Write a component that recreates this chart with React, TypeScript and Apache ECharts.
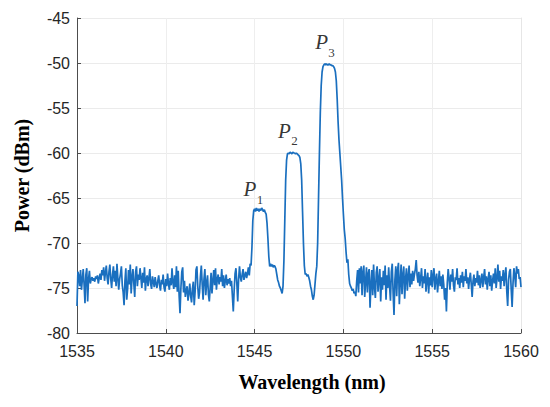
import React, { useEffect, useRef } from "react";
import * as echarts from "echarts";

const X_MIN = 1535;
const X_MAX = 1560;
const STEP = 0.05;

// Spectrum, left noise floor: starts at 1535.00 nm, every 0.05 nm
const noiseLeft = [
  -77.0, -73.2, -73.6, -74.8, -73.0, -75.2, -74.1, -72.9, -74.6, -76.7, -73.5, -72.8, -76.5, -74.0, -73.1, -74.5, -74.0, -73.8, -74.2, -73.9,
  -74.3, -73.7, -74.0, -73.6, -74.5, -73.9, -73.4, -74.1, -73.0, -73.6, -72.7, -74.2, -73.3, -72.5, -73.9, -74.6, -73.2, -72.4, -74.0, -75.0,
  -73.5, -72.6, -74.3, -73.1, -74.8, -72.3, -73.9, -75.2, -74.0, -73.4, -72.6, -74.7, -75.5, -76.9, -74.2, -72.8, -76.3, -75.1, -73.0, -74.6,
  -72.4, -75.6, -73.8, -72.9, -74.5, -76.0, -73.2, -72.6, -74.8, -73.5, -74.1, -72.8, -73.9, -75.0, -73.3, -74.4, -72.7, -75.3, -74.0, -73.6,
  -74.8, -73.9, -72.9, -74.6, -75.1, -73.7, -74.3, -74.9, -73.8, -74.5, -75.0, -74.2, -73.6, -74.7, -75.3, -74.1, -74.6, -73.5, -74.9, -75.4,
  -74.0, -74.8, -73.4, -74.5, -75.2, -73.9, -74.7, -72.8, -74.4, -75.1, -73.6, -74.9, -72.6, -75.4, -73.1, -75.8, -77.8, -75.0, -73.2, -72.7,
  -75.5, -74.2, -76.0, -75.3, -74.8, -76.4, -75.6, -74.5, -75.9, -76.6, -75.1, -74.3, -76.9, -75.4, -73.0, -72.6, -74.8, -76.2, -75.5, -73.7,
  -72.5, -74.6, -76.3, -74.0, -72.9, -75.8, -74.4, -73.6, -75.7, -76.5, -74.9, -73.3, -75.6, -74.2, -73.0, -74.7, -72.8, -75.2, -74.0, -73.5,
  -74.6, -73.8, -74.3, -72.9, -74.8, -73.6, -75.0, -74.2, -73.5, -74.7, -74.0, -74.5, -73.9, -74.8, -74.2, -75.9, -77.6, -75.2, -73.4, -72.8,
  -74.5, -76.5, -74.0, -72.6, -73.8, -74.3, -73.5, -72.9, -74.1, -73.6, -73.2, -73.9, -73.4, -72.7, -73.6, -72.3,
];

// Three channels P1, P2, P3: starts at 1544.80 nm, every 0.05 nm
const peaks = [
  -72.5, -70.5, -67.5, -66.4, -66.2, -66.5, -66.1, -66.4, -66.2, -66.5,
  -66.2, -66.4, -66.1, -66.3, -66.5, -66.3, -66.6, -66.8, -67.8, -69.5,
  -71.5, -72.6, -72.3, -72.6, -72.4, -72.7, -72.5, -72.6, -72.9, -73.5,
  -74.1, -74.4, -74.8, -75.0, -75.3, -75.6, -74.8, -72.0, -67.5, -63.0,
  -60.8, -60.1, -60.0, -60.1, -59.9, -60.0, -60.1, -59.9, -60.0, -60.0,
  -60.1, -60.0, -60.1, -60.2, -60.3, -60.5, -61.2, -63.0, -66.5, -70.0,
  -72.5, -73.5, -73.4, -73.7, -73.5, -73.8, -74.2, -74.8, -75.2, -75.9,
  -76.3, -75.8, -74.6, -73.4, -72.6, -70.0, -65.0, -60.0, -55.5, -52.5,
  -51.0, -50.4, -50.2, -50.1, -50.2, -50.1, -50.2, -50.2, -50.1, -50.2,
  -50.2, -50.3, -50.3, -50.4, -50.6, -51.0, -52.0, -54.0, -56.5, -58.5,
  -60.0, -61.5, -63.0, -65.0, -66.8, -68.5, -69.5, -71.0, -72.2, -71.8,
  -73.5, -74.5, -74.8, -75.0, -75.3, -75.1, -75.6, -75.4, -75.9, -74.2,
  -73.0, -75.5,
];

// Right noise floor: ends at 1560.00 nm, every 0.05 nm
const noiseRight = [
  -72.8, -74.5,
  -72.6, -75.8, -73.2, -72.5, -76.0, -74.3, -72.7, -75.5, -73.4, -72.9, -77.2, -74.6, -73.0, -75.8, -72.4, -74.9, -76.1, -73.3, -72.6, -75.4,
  -74.0, -72.9, -76.5, -73.8, -75.2, -73.1, -74.7, -72.5, -76.3, -73.6, -75.0, -72.7, -74.8, -76.4, -73.2, -72.3, -75.6, -78.0, -74.1, -72.6,
  -75.9, -73.0, -72.2, -76.8, -74.3, -72.4, -75.7, -73.5, -72.6, -76.2, -74.0, -72.8, -75.3, -73.7, -72.5, -74.9, -73.4, -74.6, -73.1, -74.2,
  -73.5, -72.9, -71.9, -73.6, -74.4, -73.2, -74.8, -73.9, -72.8, -75.0, -73.7, -74.5, -72.9, -75.4, -74.1, -73.3, -75.6, -73.8, -74.7, -73.0,
  -74.9, -73.6, -72.8, -75.2, -74.0, -73.4, -75.5, -74.3, -73.1, -74.8, -73.7, -75.1, -73.5, -74.6, -76.3, -75.0, -77.6, -74.4, -72.9, -74.0,
  -75.2, -73.5, -74.3, -72.9, -74.7, -75.4, -73.8, -74.1, -72.8, -74.6, -73.9, -75.0, -73.6, -74.4, -73.2, -74.9, -73.7, -74.2, -72.9, -74.5,
  -73.8, -75.1, -74.0, -73.3, -74.6, -76.0, -74.2, -73.5, -74.8, -73.9, -74.4, -73.1, -74.7, -73.6, -75.0, -74.1, -73.4, -74.9, -73.8, -72.9,
  -74.6, -73.7, -75.2, -74.0, -73.2, -74.8, -73.6, -75.3, -74.2, -73.4, -74.5, -72.8, -75.0, -73.9, -72.4, -74.3, -73.1, -75.1, -73.7, -74.2,
  -73.0, -74.8, -73.5, -72.7, -75.4, -77.0, -74.1, -73.2, -72.9, -75.2, -77.1, -74.5, -72.8, -73.6, -74.9, -72.6, -73.4, -72.9, -74.0, -73.8,
  -74.9,
];

// Peak annotations: subscript, wavelength (nm), power (dBm)
const labelNames = ["1", "2", "3"];
const labelX = [1544.74, 1546.68, 1548.77];
const labelY = [-64.0, -57.5, -47.7];

const xTicks = [1535, 1540, 1545, 1550, 1555, 1560];
const yTicks = [-80, -75, -70, -65, -60, -55, -50, -45];

function buildSeriesData(): number[][] {
  const out: number[][] = [];
  noiseLeft.forEach((v, i) => out.push([+(X_MIN + i * STEP).toFixed(2), v]));
  const peakStart = 1544.8;
  peaks.forEach((v, i) => out.push([+(peakStart + i * STEP).toFixed(2), v]));
  const n = noiseRight.length;
  noiseRight.forEach((v, i) => out.push([+(X_MAX - (n - 1 - i) * STEP).toFixed(2), v]));
  return out;
}

export default function App() {
  const ref = useRef<HTMLDivElement>(null);

  useEffect(() => {
    document.body.style.margin = "0";
    if (!ref.current) return;
    const chart = echarts.init(ref.current, undefined, { renderer: "svg" });
    const axisColor = "#4d4d4d";
    const labelColor = "#262626";
    const serif = "'Liberation Serif', 'Times New Roman', serif";
    const sans = "'Liberation Sans', Arial, sans-serif";

    chart.setOption({
      animation: false,
      backgroundColor: "#ffffff",
      grid: { left: 77, top: 18, width: 444, height: 315, containLabel: false },
      xAxis: {
        type: "value",
        min: xTicks[0],
        max: xTicks[xTicks.length - 1],
        interval: 5,
        name: "Wavelength (nm)",
        nameLocation: "middle",
        nameGap: 39,
        nameTextStyle: {
          fontFamily: serif,
          fontWeight: "bold",
          fontSize: 20,
          color: "#000",
          padding: [0, 0, 0, 26],
        },
        axisLine: { show: true, onZero: false, lineStyle: { color: axisColor, width: 1 } },
        axisTick: { show: true, inside: true, length: 4, lineStyle: { color: axisColor } },
        axisLabel: {
          fontFamily: sans,
          fontSize: 16,
          color: labelColor,
          margin: 10,
          formatter: (v: number) => String(v),
        },
        splitLine: { show: true, lineStyle: { color: "#eeeeee", width: 1 } },
      },
      yAxis: [
        {
          type: "value",
          min: yTicks[0],
          max: yTicks[yTicks.length - 1],
          interval: 5,
          name: "Power (dBm)",
          nameLocation: "middle",
          nameGap: 45,
          nameTextStyle: {
            fontFamily: serif,
            fontWeight: "bold",
            fontSize: 20,
            color: "#000",
          },
          axisLine: { show: true, onZero: false, lineStyle: { color: axisColor, width: 1 } },
          axisTick: { show: true, inside: true, length: 4, lineStyle: { color: axisColor } },
          axisLabel: {
            fontFamily: sans,
            fontSize: 16,
            color: labelColor,
            margin: 7,
            formatter: (v: number) => String(v),
          },
          splitLine: { show: true, lineStyle: { color: "#ebebeb", width: 1 } },
        },
        {
          type: "value",
          position: "right",
          min: yTicks[0],
          max: yTicks[yTicks.length - 1],
          interval: 5,
          axisLine: { show: true, onZero: false, lineStyle: { color: "#e6e6e6", width: 1 } },
          axisTick: { show: false },
          axisLabel: { show: false },
          splitLine: { show: false },
        },
      ],
      series: [
        {
          type: "line",
          data: buildSeriesData(),
          showSymbol: false,
          symbol: "none",
          lineStyle: { color: "#1a6fbf", width: 1.7 },
          z: 3,
        },
        {
          type: "scatter",
          symbolSize: 0,
          data: labelX.map((x, i) => [x, labelY[i]]),
          label: {
            show: true,
            position: "inside",
            formatter: "P",
            fontFamily: serif,
            fontStyle: "italic",
            fontSize: 21,
            color: "#000",
          },
          z: 4,
        },
        {
          type: "scatter",
          symbolSize: 0,
          data: labelX.map((x, i) => ({ value: [x, labelY[i]], name: labelNames[i] })),
          label: {
            show: true,
            position: "inside",
            offset: [10, 10],
            formatter: (p: any) => labelNames[p.dataIndex],
            fontFamily: serif,
            fontSize: 13,
            color: "#000",
          },
          z: 4,
        },
      ],
    });
    return () => chart.dispose();
  }, []);

  return <div ref={ref} style={{ width: 550, height: 407 }} />;
}
